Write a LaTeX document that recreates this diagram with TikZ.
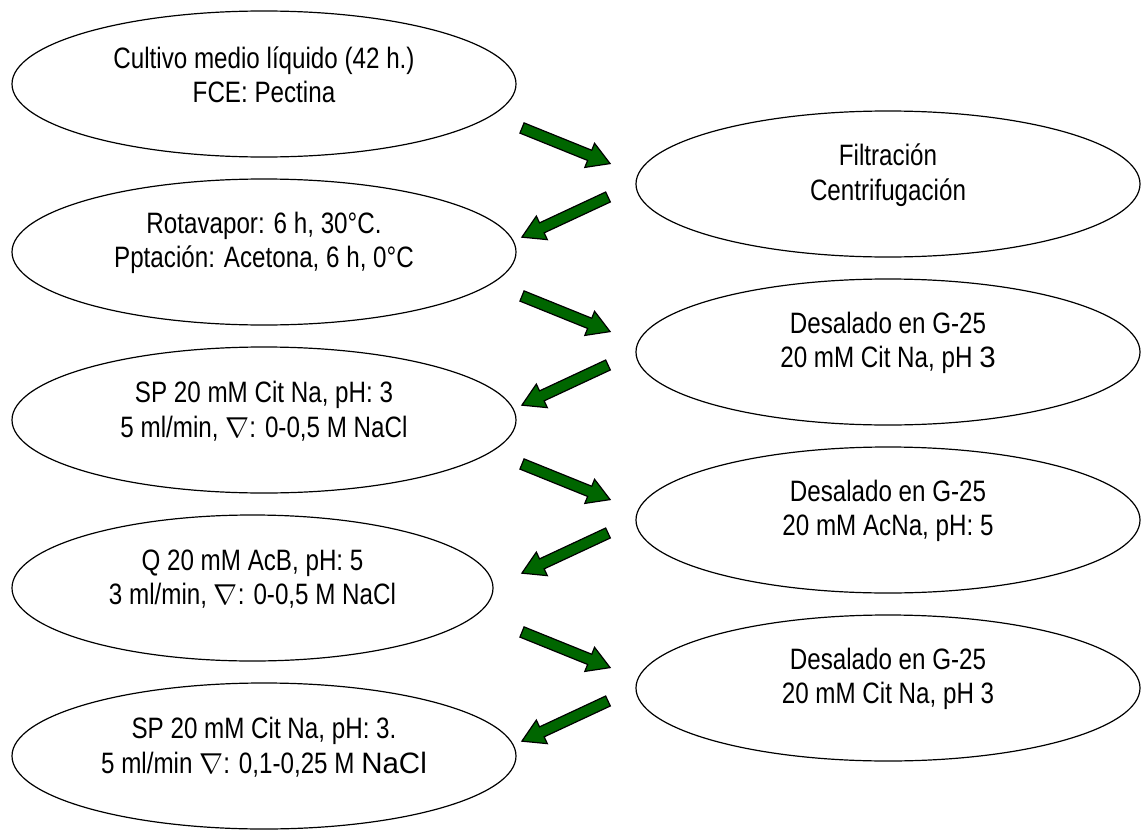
\documentclass[tikz,border=0pt]{standalone}
\usepackage{fontspec}
\setmainfont[FakeStretch=0.82]{Liberation Sans}
\newfontfamily\widefont{Liberation Sans}
\newcommand{\wide}[1]{{\widefont #1}}
\usetikzlibrary{shapes.geometric}
\definecolor{arrowgreen}{RGB}{0,102,0}
\tikzset{
  stage/.style={ellipse, draw, line width=0.6pt, inner sep=0pt,
    minimum width=252pt, minimum height=73pt},
  stagetext/.style={align=center, inner sep=0pt,
    font=\fontsize{14.75}{17.25}\selectfont},
  pics/fatarrow/.style={code={
    \draw[fill=arrowgreen, line width=0.6pt, line join=miter]
      (0,-5.5) -- (73,-5.5) -- (73,-13) -- (95,0) -- (73,13) -- (73,5.5) -- (0,5.5) -- cycle;
  }}
}
\begin{document}
\begin{tikzpicture}[x=0.5pt, y=-0.5pt]
    \useasboundingbox (0,0) rectangle (1141,830);
    %% left column
    \node[stage] (cultivo) at (264,84) {};
    \node[stagetext] (cultivo-t) at ([yshift=4.5pt]cultivo.center) {Cultivo medio líquido (42 h.)\\FCE: Pectina};
    \node[stage] (rotavapor) at (264,252) {};
    \node[stagetext] (rotavapor-t) at ([yshift=4.5pt]rotavapor.center) {Rotavapor: 6 h, 30°C.\\Pptación: Acetona, 6 h, 0°C};
    \node[stage] (spA) at (264,420) {};
    \node[stagetext] (spA-t) at ([yshift=4.5pt]spA.center) {SP 20 mM Cit Na, pH: 3\\5 ml/min, $\nabla$: 0-0,5 M NaCl};
    \node[stage, minimum width=240.5pt] (qcol) at (252.5,588) {};
    \node[stagetext] (qcol-t) at ([yshift=4.5pt]qcol.center) {Q 20 mM AcB, pH: 5\\3 ml/min, $\nabla$: 0-0,5 M NaCl};
    \node[stage] (spB) at (264,756) {};
    \node[stagetext] (spB-t) at ([yshift=4.5pt]spB.center) {SP 20 mM Cit Na, pH: 3.\\5 ml/min $\nabla$: 0,1-0,25 M \wide{NaCl}};
    %% right column
    \node[stage] (filtra) at (888,184) {};
    \node[stagetext] (filtra-t) at ([yshift=4.5pt]filtra.center) {Filtración\\Centrifugación};
    \node[stage] (desalA) at (888,352) {};
    \node[stagetext] (desalA-t) at ([yshift=4.5pt]desalA.center) {Desalado en G-25\\20 mM Cit Na, pH \wide{3}};
    \node[stage] (desalB) at (888,520) {};
    \node[stagetext] (desalB-t) at ([yshift=4.5pt]desalB.center) {Desalado en G-25\\20 mM AcNa, pH: 5};
    \node[stage] (desalC) at (888,688) {};
    \node[stagetext] (desalC-t) at ([yshift=4.5pt]desalC.center) {Desalado en G-25\\20 mM Cit Na, pH 3};
    %% green arrows, zig-zag between the columns
    \foreach \i in {0,...,3} {
        \pic[rotate=-22] at (522,128+168*\i) {fatarrow};
        \pic[rotate=205] at (608,197+168*\i) {fatarrow};
    }
\end{tikzpicture}
\end{document}
